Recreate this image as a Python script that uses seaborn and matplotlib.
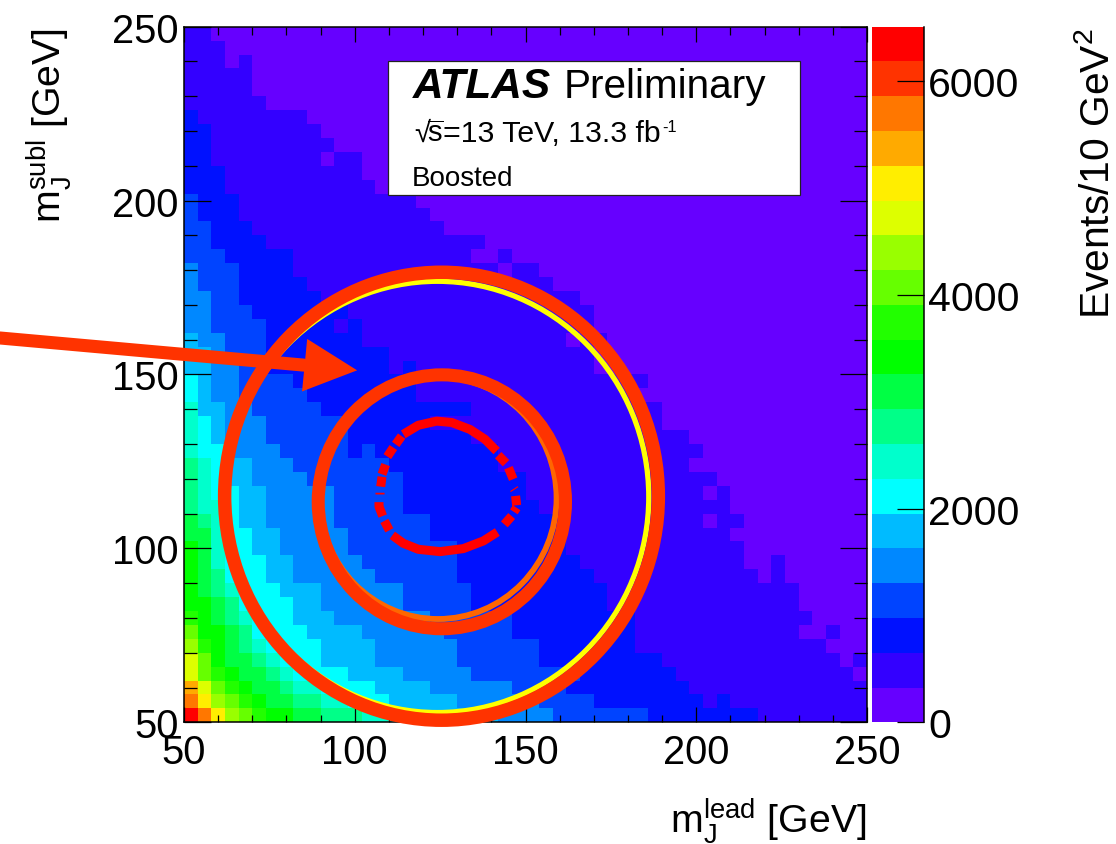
import numpy as np
import matplotlib
matplotlib.use("Agg")
import matplotlib.pyplot as plt
from matplotlib.colors import ListedColormap
from matplotlib.patches import Ellipse, Rectangle
import seaborn as sns

# colour bands of the z axis, bottom to top
band_colors = ["#6600ff", "#3300ff", "#0011ff", "#0044ff", "#0088ff", "#00bbff", "#00ffff",
               "#00ffcc", "#00ff88", "#00ff44", "#00ff00", "#22ff00", "#66ff00", "#99ff00",
               "#ddff00", "#ffee00", "#ffaa00", "#ff7700", "#ff3300", "#ff0000"]
z_max = 6510

# for each band: last column reaching that band, per row (bottom row first)
band_1_edge = [49, 49, 49, 48, 49, 46, 44, 45, 44, 44, 41, 40, 40, 39, 40, 39, 39, 38, 36, 37,
               36, 34, 34, 32, 33, 29, 29, 30, 29, 29, 28, 26, 25, 20, 21, 18, 17, 16, 13, 12,
               12, 10, 9, 8, 5, 4, 4, 2, 2, 1]
band_2_edge = [41, 37, 36, 35, 34, 32, 32, 32, 30, 30, 29, 28, 27, 27, 26, 25, 24, 24, 22, 22,
               20, 17, 20, 16, 16, 14, 14, 12, 12, 11, 9, 8, 7, 7, 5, 4, 3, 3, 2, 2, 1, 1, 1, 0]
band_3_edge = [33, 29, 27, 28, 25, 25, 23, 23, 20, 20, 19, 19, 19, 17, 17, 15, 15, 15, 14, 11,
               11, 11, 9, 8, 7, 5, 5, 5, 5, 4, 3, 3, 3, 2, 1, 1, 0, 0]
band_4_edge = [26, 25, 23, 20, 19, 19, 18, 17, 15, 15, 13, 12, 11, 11, 10, 10, 10, 8, 7, 6,
               5, 5, 4, 3, 3, 3, 2, 2, 1, 1, 1, 0, 0]
band_5_edge = [22, 19, 17, 15, 13, 13, 12, 10, 9, 9, 7, 7, 6, 6, 5, 5, 5, 4, 4, 2,
               2, 2, 2, 1, 1, 1, 1, 0]
band_6_edge = [15, 14, 13, 11, 9, 9, 8, 7, 7, 6, 5, 5, 4, 4, 3, 3, 3, 2, 2, 2, 1, 1, 0, 0, 0]
band_7_edge = [14, 11, 9, 7, 6, 5, 4, 4, 3, 3, 2, 2, 2, 2, 2, 2, 1, 1, 1, 0, 0, 0, 0]
band_8_edge = [12, 9, 7, 6, 5, 4, 4, 3, 3, 2, 2, 1, 1, 1, 1, 0, 0, 0, 0]
band_9_edge = [9, 7, 6, 5, 4, 3, 3, 2, 2, 1, 1, 1, 1, 1, 0]
band_10_edge = [7, 5, 4, 3, 2, 2, 2, 1, 1, 0, 0, 0, 0]
band_11_edge = [5, 4, 3, 2, 1, 1, 0, 0]
band_12_edge = [4, 3, 2, 1, 1, 0, 0]
band_13_edge = [3, 2, 1, 0, 0, 0]
band_14_edge = [2, 1, 1, 0, 0]
band_15_edge = [2, 1, 0]
band_16_edge = [1, 0, 0]
band_17_edge = [1, 0]
band_18_edge = [0]
band_19_edge = [0]
band_edges = [band_1_edge, band_2_edge, band_3_edge, band_4_edge, band_5_edge, band_6_edge,
              band_7_edge, band_8_edge, band_9_edge, band_10_edge, band_11_edge, band_12_edge,
              band_13_edge, band_14_edge, band_15_edge, band_16_edge, band_17_edge,
              band_18_edge, band_19_edge]

# isolated bins that stick out of the staircase: row, column, band
odd_bins = [(14, 38, 0), (16, 38, 0), (27, 28, 0), (40, 10, 0), (32, 23, 0), (4, 48, 0),
            (33, 23, 1), (47, 4, 1), (11, 43, 1), (10, 43, 1), (6, 47, 1),
            (1, 39, 2), (25, 16, 2), (28, 11, 1), (19, 13, 3)]

# hand drawn rings, GeV: centre x, centre y, radius x, radius y
yellow_ring = (124.2, 114.8, 61.9, 62.0)
outer_ring = (125.4, 115.0, 63.5, 64.4)
orange_ring = (124.4, 114.5, 34.7, 34.8)
middle_ring = (125.5, 113.4, 36.2, 36.5)

# broken inner contour, GeV
inner_x = [141.75, 137.65, 131.8, 124.96, 118.6, 114.2, 111.0, np.nan, 110.13, 108.66, np.nan,
           108.18, 107.1, 107.1, np.nan, 107.4, 107.4, np.nan, 107.6, 107.98, np.nan, 107.98, 109.05, np.nan,
           109.54, 111.3, np.nan, 111.98, 113.74, np.nan, 114.2, 118.6, 124.0, 128.4, 133.75, 138.1, 141.55, np.nan,
           142.0, 144.3, np.nan, 145.0, 146.4, np.nan, 146.6, 146.8, np.nan, 147.1, 147.4, np.nan,
           147.4, 146.6, np.nan, 145.95, 143.8]
inner_y = [104.7, 102.14, 99.94, 99.07, 99.74, 101.47, 103.77, np.nan, 105.2, 107.9, np.nan,
           109.3, 112.0, 113.3, np.nan, 116.0, 115.5, np.nan, 117.76, 120.6, np.nan, 121.3, 124.1, np.nan,
           126.4, 129.0, np.nan, 129.9, 132.3, np.nan, 132.8, 135.4, 136.6, 136.2, 134.2, 131.4, 128.0, np.nan,
           126.8, 124.5, np.nan, 123.2, 119.9, np.nan, 117.2, 116.9, np.nan, 115.1, 112.4, np.nan,
           111.7, 110.5, np.nan, 109.3, 106.9]

arrow_start = (-3.9, 160.5)
arrow_base = (85.1, 152.7)
arrow_tip = (100.7, 151.2)

mass_ticks = [50, 100, 150, 200, 250]
mass_minor = [60, 70, 80, 90, 110, 120, 130, 140, 160, 170, 180, 190, 210, 220, 230, 240]
z_ticks = [0, 2000, 4000, 6000]


def to_bin(mass):
    # heatmap axes count bins, 4 GeV each starting at 50
    return (np.asarray(mass, dtype=float) - 50) / 4


sns.set_theme(style="ticks")
plt.rcParams["font.family"] = ["Liberation Sans", "DejaVu Sans"]
plt.rcParams["mathtext.fontset"] = "custom"
plt.rcParams["mathtext.rm"] = "Liberation Sans"
plt.rcParams["mathtext.it"] = "Liberation Sans:italic"
plt.rcParams["mathtext.bf"] = "Liberation Sans:bold"

grid = np.zeros((50, 50), dtype=int)
for level, edges in enumerate(band_edges, start=1):
    for row, last in enumerate(edges):
        grid[row, :last + 1] = level
for row, col, level in odd_bins:
    grid[row, col] = level
band_width = z_max / len(band_colors)
events = (grid + 0.5) * band_width

fig = plt.figure(figsize=(11.16, 8.45), dpi=100)
ax = fig.add_axes([184 / 1116, 1 - 723.3 / 845, 683 / 1116, 695.6 / 845])
cax = fig.add_axes([872 / 1116, 1 - 723.3 / 845, 52 / 1116, 695.6 / 845])

sns.heatmap(events, ax=ax, cbar_ax=cax, cmap=ListedColormap(band_colors), vmin=0, vmax=z_max,
            xticklabels=False, yticklabels=False, square=False)
ax.set_ylim(0, 50)
ax.set_xlim(0, 50)
ax.set_axisbelow(False)
cax.set_axisbelow(False)

# axes frame and ticks
for side in ax.spines:
    ax.spines[side].set_visible(True)
    ax.spines[side].set_color("black")
    ax.spines[side].set_linewidth(1.1)
ax.set_xticks(to_bin(mass_ticks), [str(m) for m in mass_ticks])
ax.set_yticks(to_bin(mass_ticks), [str(m) for m in mass_ticks])
ax.set_xticks(to_bin(mass_minor), minor=True)
ax.set_yticks(to_bin(mass_minor), minor=True)
ax.tick_params(axis="x", which="major", direction="in", length=10.8, width=0.9, top=True, bottom=True,
               color="black", labelsize=28.7, labelcolor="black", pad=8)
ax.tick_params(axis="x", which="minor", direction="in", length=5.4, width=0.9, top=True, bottom=True, color="black")
ax.tick_params(axis="y", which="major", direction="in", length=19.4, width=0.9, left=True, right=True,
               color="black", labelsize=28.7, labelcolor="black", pad=4, labelrotation=0)
ax.tick_params(axis="y", which="minor", direction="in", length=9.7, width=0.9, left=True, right=True, color="black")

ax.set_xlabel(r"m$_{\mathrm{J}}^{\mathrm{lead}}$ [GeV]", loc="right", fontsize=28.3, color="black", labelpad=17)
ax.set_ylabel(r"m$_{\mathrm{J}}^{\mathrm{subl}}$ [GeV]", loc="top", fontsize=28.3, color="black", labelpad=27)

# colour bar
cbar = ax.collections[0].colorbar
cbar.set_ticks(z_ticks)
cbar.ax.spines["right"].set_visible(True)
cbar.ax.spines["right"].set_color("black")
cbar.ax.spines["right"].set_linewidth(1.1)
cax.tick_params(axis="y", which="major", direction="in", length=19.4, width=0.9, color="black",
                labelsize=29.5, labelcolor="black", pad=3)
cax.minorticks_off()
cbar.set_label(r"Events/10 GeV$^{2}$", loc="top", fontsize=29.3, color="black", labelpad=42)

# rings drawn on top of the plot
for ring, colour, width, z in [(yellow_ring, "#ffff00", 3.8, 5), (outer_ring, "#ff3300", 9.7, 6),
                               (orange_ring, "#ff6600", 4.2, 5), (middle_ring, "#ff3300", 9.4, 6)]:
    ax.add_patch(Ellipse((to_bin(ring[0]), to_bin(ring[1])), 2 * ring[2] / 4, 2 * ring[3] / 4,
                         fill=False, edgecolor=colour, linewidth=width, clip_on=False, zorder=z))
ax.plot(to_bin(inner_x), to_bin(inner_y), color="#ff0000", linewidth=6.5, solid_capstyle="butt", zorder=6)

# shaft and head of the arrow
ax.annotate("", xy=(to_bin(arrow_base[0]), to_bin(arrow_base[1])), xytext=(to_bin(arrow_start[0]), to_bin(arrow_start[1])),
            annotation_clip=False, zorder=7,
            arrowprops=dict(arrowstyle="-", color="#ff3300", linewidth=9.4, shrinkA=0, shrinkB=0))
ax.annotate("", xy=(to_bin(arrow_tip[0]), to_bin(arrow_tip[1])), xytext=(to_bin(arrow_base[0]), to_bin(arrow_base[1])),
            annotation_clip=False, zorder=7,
            arrowprops=dict(arrowstyle="-|>,head_length=38,head_width=19", mutation_scale=1, color="#ff3300",
                            linewidth=0, shrinkA=0, shrinkB=0))

# label box
ax.add_patch(Rectangle((0.2987, 0.758), 0.603, 0.1926, transform=ax.transAxes, facecolor="white",
                       edgecolor="#222222", linewidth=0.9, zorder=8))
ax.text(0.3353, 0.8994, "ATLAS", transform=ax.transAxes, fontsize=30.5, fontweight="bold", fontstyle="italic",
        color="black", va="baseline", zorder=9)
ax.text(0.5564, 0.8994, "Preliminary", transform=ax.transAxes, fontsize=29.2, color="black", va="baseline", zorder=9)
ax.text(0.3375, 0.8357, "\u221a", transform=ax.transAxes, fontsize=21, color="black", va="baseline", zorder=9)
ax.text(0.3555, 0.8357, r"$\overline{\mathrm{s}}$", transform=ax.transAxes, fontsize=21, color="black", va="baseline", zorder=9)
ax.text(0.379, 0.8357, "=13 TeV, 13.3 fb", transform=ax.transAxes, fontsize=21.8, color="black", va="baseline", zorder=9)
ax.text(0.6999, 0.850, "-1", transform=ax.transAxes, fontsize=11.7, color="black", va="baseline", zorder=9)
ax.text(0.3338, 0.7729, "Boosted", transform=ax.transAxes, fontsize=20, color="black", va="baseline", zorder=9)

fig.savefig("out.png", dpi=100)
